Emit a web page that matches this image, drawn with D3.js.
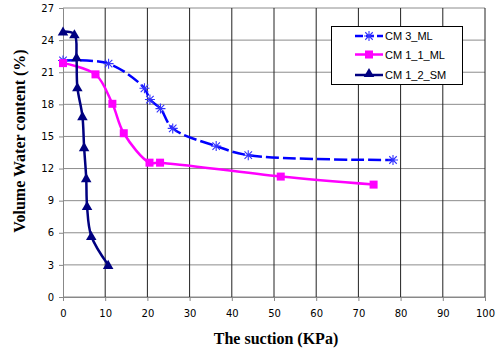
<!DOCTYPE html>
<html>
<head>
<meta charset="utf-8">
<script src="https://cdn.jsdelivr.net/npm/d3@7"></script>
<style>
  body { margin: 0; background: #fff; }
  svg { display: block; }
  .tick text { font-family: "DejaVu Sans", sans-serif; font-size: 10px; fill: #000; }
  .axis-title { font-family: "Liberation Serif", serif; font-weight: bold; font-size: 16px; }
  .legend text { font-family: "Liberation Sans", sans-serif; font-size: 11px; }
</style>
</head>
<body>
<div id="chart"></div>
<script>
// data
const cm3X = [0, 10.8, 19.3, 20.6, 23.1, 26, 36.3, 43.9, 78.2];
const cm3Y = [22.1, 21.8, 19.5, 18.45, 17.6, 15.75, 14.1, 13.25, 12.8];

const cm11X = [0, 7.7, 11.7, 14.4, 20.5, 23, 51.6, 73.6];
const cm11Y = [21.85, 20.8, 18.05, 15.3, 12.55, 12.55, 11.25, 10.5];

const cm12X = [0, 2.7, 3.2, 3.4, 4.6, 5.0, 5.5, 5.7, 6.7, 10.7];
const cm12Y = [24.8, 24.55, 22.4, 19.6, 16.9, 14.0, 11.1, 8.5, 5.7, 3.0];

const xTicks = [0, 10, 20, 30, 40, 50, 60, 70, 80, 90, 100];
const yTicks = [0, 3, 6, 9, 12, 15, 18, 21, 24, 27];

const seriesNames = ["CM 3_ML", "CM 1_1_ML", "CM 1_2_SM"];

const width = 499, height = 351;
const margin = { top: 8, right: 14, bottom: 54, left: 63 };

const svg = d3.select("#chart").append("svg")
    .attr("width", width)
    .attr("height", height);

const x = d3.scaleLinear().domain([0, 100]).range([margin.left, width - margin.right]);
const y = d3.scaleLinear().domain([0, 27]).range([height - margin.bottom, margin.top]);

// grid
svg.append("g")
    .selectAll("line")
    .data(yTicks)
    .join("line")
    .attr("x1", x(0)).attr("x2", x(100))
    .attr("y1", d => y(d)).attr("y2", d => y(d))
    .attr("stroke", "#8c8c8c");

svg.append("g")
    .selectAll("line")
    .data(xTicks.slice(1))
    .join("line")
    .attr("x1", d => x(d)).attr("x2", d => x(d))
    .attr("y1", y(0)).attr("y2", y(27))
    .attr("stroke", "#222");

// axes
const yAxis = svg.append("g")
    .attr("transform", "translate(" + x(0) + ",0)")
    .call(d3.axisLeft(y).tickValues(yTicks).tickSize(4).tickPadding(5));

const xAxis = svg.append("g")
    .attr("transform", "translate(0," + y(0) + ")")
    .call(d3.axisBottom(x).tickValues(xTicks).tickSize(4).tickPadding(9));

[xAxis, yAxis].forEach(a => {
    a.select(".domain").attr("stroke", "#888");
    a.selectAll(".tick line").attr("stroke", "#888");
});

// series
const line = d3.line()
    .x(d => x(d[0]))
    .y(d => y(d[1]))
    .curve(d3.curveCatmullRom.alpha(0.5));

const cm3 = cm3X.map((v, i) => [v, cm3Y[i]]);
const cm11 = cm11X.map((v, i) => [v, cm11Y[i]]);
const cm12 = cm12X.map((v, i) => [v, cm12Y[i]]);

svg.append("path")
    .datum(cm3)
    .attr("fill", "none")
    .attr("stroke", "#0000ff")
    .attr("stroke-width", 2.5)
    .attr("stroke-dasharray", "13,4")
    .attr("d", line);

svg.append("path")
    .datum(cm11)
    .attr("fill", "none")
    .attr("stroke", "#ff00ff")
    .attr("stroke-width", 2.5)
    .attr("d", line);

svg.append("path")
    .datum(cm12)
    .attr("fill", "none")
    .attr("stroke", "#000080")
    .attr("stroke-width", 2.5)
    .attr("d", line);

function star(g, cx, cy) {
    const r = 5;
    const p = "M" + (cx - r) + "," + cy + "H" + (cx + r) +
        "M" + cx + "," + (cy - r) + "V" + (cy + r) +
        "M" + (cx - r * 0.75) + "," + (cy - r * 0.75) + "L" + (cx + r * 0.75) + "," + (cy + r * 0.75) +
        "M" + (cx - r * 0.75) + "," + (cy + r * 0.75) + "L" + (cx + r * 0.75) + "," + (cy - r * 0.75);
    g.append("path").attr("d", p).attr("stroke", "#3333ff").attr("stroke-width", 1.1).attr("fill", "none");
}

const triangle = d3.symbol().type(d3.symbolTriangle).size(48);

const m3 = svg.append("g");
cm3.forEach(d => star(m3, x(d[0]), y(d[1])));

svg.append("g")
    .selectAll("rect")
    .data(cm11)
    .join("rect")
    .attr("x", d => x(d[0]) - 4)
    .attr("y", d => y(d[1]) - 4)
    .attr("width", 8).attr("height", 8)
    .attr("fill", "#ff00ff");

svg.append("g")
    .selectAll("path")
    .data(cm12)
    .join("path")
    .attr("transform", d => "translate(" + x(d[0]) + "," + (y(d[1]) + 1) + ")")
    .attr("d", triangle)
    .attr("fill", "#000080");

// titles
svg.append("text")
    .attr("class", "axis-title")
    .attr("x", 276)
    .attr("y", 344)
    .attr("text-anchor", "middle")
    .text("The suction (KPa)");

svg.append("text")
    .attr("class", "axis-title")
    .attr("transform", "translate(25,141) rotate(-90)")
    .attr("text-anchor", "middle")
    .text("Volume Water content (%)");

// legend
const legend = svg.append("g").attr("class", "legend");
legend.append("rect")
    .attr("x", 331.5).attr("y", 26.5)
    .attr("width", 131).attr("height", 58)
    .attr("fill", "#fff").attr("stroke", "#000");

const legY = [36, 54.5, 75];
legend.append("line").attr("x1", 355).attr("x2", 383).attr("y1", legY[0]).attr("y2", legY[0])
    .attr("stroke", "#0000ff").attr("stroke-width", 2.5).attr("stroke-dasharray", "8,3");
star(legend, 369, legY[0]);
legend.append("line").attr("x1", 355).attr("x2", 383).attr("y1", legY[1]).attr("y2", legY[1])
    .attr("stroke", "#ff00ff").attr("stroke-width", 2.5);
legend.append("rect").attr("x", 365).attr("y", legY[1] - 4).attr("width", 8).attr("height", 8).attr("fill", "#ff00ff");
legend.append("line").attr("x1", 355).attr("x2", 383).attr("y1", legY[2]).attr("y2", legY[2])
    .attr("stroke", "#000080").attr("stroke-width", 2.5);
legend.append("path").attr("transform", "translate(369," + (legY[2] - 1) + ")").attr("d", triangle).attr("fill", "#000080");

legend.selectAll("text")
    .data(seriesNames)
    .join("text")
    .attr("x", 385)
    .attr("y", (d, i) => legY[i] + 4)
    .text(d => d);
</script>
</body>
</html>
